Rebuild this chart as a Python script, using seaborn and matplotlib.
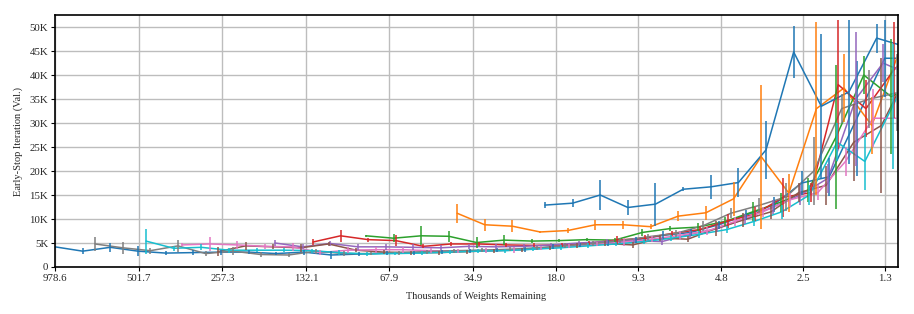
import matplotlib
matplotlib.use("Agg")
import matplotlib.pyplot as plt
import seaborn as sns
import pandas as pd

# fraction of weights left after each pruning round
RETAIN = [1.0, 0.802, 0.6432, 0.5158, 0.4137, 0.3318, 0.2661, 0.2134, 0.1712, 0.1373,
          0.1101, 0.0883, 0.0708, 0.0568, 0.0456, 0.0365, 0.0293, 0.0235, 0.0188, 0.0151,
          0.0121, 0.0097, 0.0078, 0.00625, 0.00501, 0.00402, 0.00322, 0.00258, 0.00207,
          0.00166, 0.00133, 0.00107]

# starting size (thousands of weights) of each network
start_size = {
    "a": 978.6, "orange": 39.5, "green": 81.8, "red": 124.9, "purple": 169.0,
    "brown": 266.5, "pink": 355.1, "gray": 711.1, "cyan": 473.4, "b": 19.6,
}

colors = {
    "a": "#1f77b4", "orange": "#ff7f0e", "green": "#2ca02c", "red": "#d62728",
    "purple": "#9467bd", "brown": "#8c564b", "pink": "#e377c2", "gray": "#7f7f7f",
    "cyan": "#17becf", "b": "#1f77b4",
}

# early-stop iteration (thousands), mean and half-width of error bar
mean_a = [4.2, 3.3, 4.1, 3.3, 2.9, 3.0, 3.1, 3.1, 2.8, 3.1, 2.5, 2.7, 2.9, 3.0, 3.2, 3.4,
          3.5, 3.7, 4.2, 4.6, 5.0, 5.6, 6.6, 7.2, 8.8, 10.8, 13.0, 17.5, 18.8, 31.0, 43.5, 43.5]
err_a = [0.2, 0.6, 1.0, 1.1, 0.4, 0.5, 0.5, 0.4, 0.4, 0.5, 0.8, 0.4, 0.4, 0.4, 0.4, 0.4,
         0.4, 0.5, 0.5, 0.5, 0.6, 0.6, 0.8, 0.8, 0.8, 1.0, 1.5, 2.5, 4.0, 12.0, 8.0, 8.0]

mean_orange = [11.2, 8.8, 8.5, 7.3, 7.6, 8.8, 8.8, 8.4, 10.6, 11.3, 14.2, 23.0, 15.4, 33.0,
               37.3, 29.5, 45.0]
err_orange = [2.0, 1.2, 1.2, 0.2, 0.5, 1.0, 0.8, 0.5, 1.0, 1.5, 3.5, 15.0, 4.0, 18.0,
              7.0, 6.0, 8.0]

mean_green = [6.5, 6.0, 6.5, 6.4, 5.1, 5.6, 5.4, 5.5, 5.7, 5.6, 7.2, 8.0, 8.3, 9.5, 11.5,
              13.5, 16.0, 27.0, 40.0, 35.5, 38.0]
err_green = [0.2, 0.8, 2.0, 1.2, 1.2, 1.0, 0.5, 0.3, 0.3, 0.4, 0.8, 0.5, 0.8, 1.0, 2.0,
             2.0, 2.5, 15.0, 4.0, 12.0, 8.0]

mean_red = [5.2, 6.5, 5.7, 5.5, 4.3, 4.8, 4.8, 4.6, 4.5, 4.6, 5.0, 5.6, 6.0, 7.0, 7.8,
            9.6, 11.0, 14.5, 15.5, 38.0, 33.0, 41.0, 47.0]
err_red = [0.6, 1.3, 0.4, 1.2, 0.4, 0.4, 0.4, 0.4, 0.4, 0.4, 0.5, 0.8, 0.6, 0.6, 0.8,
           1.5, 1.5, 4.0, 2.0, 13.5, 6.0, 10.0, 8.0]

mean_purple = [5.0, 4.2, 4.9, 4.2, 4.2, 4.1, 4.0, 4.3, 4.2, 4.3, 4.6, 5.0, 5.3, 5.5, 5.3,
               6.8, 8.0, 10.0, 12.5, 15.0, 18.5, 35.0, 42.5, 40.0]
err_purple = [0.6, 0.5, 0.5, 0.6, 0.6, 0.6, 0.5, 0.5, 0.5, 0.4, 0.4, 0.5, 0.6, 0.6, 0.8,
              0.8, 0.8, 1.0, 1.5, 2.0, 3.0, 14.0, 4.0, 6.0]

mean_brown = [3.2, 4.4, 4.2, 4.0, 4.8, 3.5, 3.1, 3.0, 3.0, 3.2, 3.4, 3.6, 4.0, 4.5, 4.9,
              4.6, 6.0, 5.8, 8.0, 9.8, 11.5, 15.5, 17.0, 26.0, 29.5, 41.0]
err_brown = [1.0, 0.8, 0.5, 0.8, 0.5, 0.4, 0.4, 0.4, 0.4, 0.4, 0.4, 0.4, 0.4, 0.5, 0.5,
             0.6, 0.6, 0.6, 1.5, 1.5, 1.5, 2.0, 4.0, 8.0, 14.0, 8.0]

mean_pink = [4.6, 4.8, 4.6, 4.3, 4.2, 3.0, 3.5, 3.6, 3.6, 3.4, 3.3, 3.4, 3.5, 3.9, 4.3,
             4.8, 5.2, 5.8, 6.6, 7.5, 9.5, 11.5, 14.0, 15.5, 22.0, 31.0, 31.0]
err_pink = [0.3, 1.5, 0.8, 0.5, 0.8, 0.5, 0.6, 0.6, 0.6, 0.5, 0.4, 0.5, 0.6, 0.4, 0.4,
            0.5, 0.8, 0.6, 1.0, 0.8, 1.0, 1.0, 1.5, 1.5, 3.0, 6.0, 6.0]

mean_gray = [4.8, 4.0, 3.4, 4.4, 2.8, 3.3, 2.6, 2.5, 3.3, 2.8, 2.8, 3.0, 3.2, 3.4, 3.5,
             3.7, 4.0, 4.4, 4.9, 5.5, 6.3, 7.0, 8.6, 11.2, 12.8, 14.6, 20.0, 33.0, 35.0,
             36.3, 37.0]
err_gray = [1.5, 1.2, 0.6, 1.2, 0.6, 0.8, 0.6, 0.5, 0.5, 0.5, 0.4, 0.4, 0.4, 0.4, 0.4,
            0.4, 0.4, 0.5, 0.5, 0.6, 0.6, 0.8, 1.0, 1.0, 1.5, 3.0, 7.0, 3.0, 6.0, 8.0, 8.0]

mean_cyan = [5.4, 3.9, 4.1, 3.5, 3.5, 3.5, 3.4, 3.0, 2.7, 2.8, 2.9, 3.1, 3.3, 3.4, 3.7,
             4.0, 4.4, 4.8, 5.3, 6.0, 6.8, 7.8, 9.5, 11.5, 15.0, 26.0, 22.0, 33.5, 45.0]
err_cyan = [2.6, 0.5, 0.6, 0.5, 0.4, 0.4, 0.4, 0.6, 0.5, 0.4, 0.4, 0.4, 0.4, 0.4, 0.4,
            0.5, 0.5, 0.5, 0.6, 0.6, 0.8, 0.8, 1.0, 1.5, 2.0, 4.0, 6.0, 13.0, 8.0]

mean_b = [12.9, 13.3, 15.0, 12.4, 13.1, 16.2, 16.7, 17.6, 24.4, 44.8, 33.5, 36.5, 47.7, 46.0]
err_b = [0.6, 0.8, 3.2, 1.5, 4.5, 0.4, 2.5, 3.0, 6.0, 5.5, 15.0, 15.0, 3.0, 5.0]

series = {
    "a": (mean_a, err_a), "orange": (mean_orange, err_orange), "green": (mean_green, err_green),
    "red": (mean_red, err_red), "purple": (mean_purple, err_purple),
    "brown": (mean_brown, err_brown), "pink": (mean_pink, err_pink),
    "gray": (mean_gray, err_gray), "cyan": (mean_cyan, err_cyan), "b": (mean_b, err_b),
}

x_ticks = [978.6, 501.7, 257.3, 132.1, 67.9, 34.9, 18.0, 9.3, 4.8, 2.5, 1.3]
y_ticks = [0, 5, 10, 15, 20, 25, 30, 35, 40, 45, 50]

rows = []
for name, (m, e) in series.items():
    for k, (v, s) in enumerate(zip(m, e)):
        rows.append({"net": name, "weights": start_size[name] * RETAIN[k], "iter": v, "err": s})
df = pd.DataFrame(rows)

sns.set_style("whitegrid", {"axes.edgecolor": "black", "grid.color": "#bdbdbd",
                            "xtick.bottom": True, "ytick.left": True})
plt.rcParams["font.family"] = ["Liberation Serif", "DejaVu Serif"]

fig = plt.figure(figsize=(9.14, 3.14), dpi=100)
ax = fig.add_axes([0.0602, 0.1497, 0.9223, 0.8023])

sns.lineplot(data=df, x="weights", y="iter", hue="net", palette=colors, estimator=None,
             sort=False, legend=False, linewidth=1.1, ax=ax)
for name, g in df.groupby("net", sort=False):
    ax.vlines(g["weights"], g["iter"] - g["err"], g["iter"] + g["err"],
              colors=colors[name], linewidth=1.1)

ax.set_xscale("log")
ax.set_xlim(978.6, 1.17)
ax.set_xticks(x_ticks)
ax.set_xticklabels([f"{t:.1f}" for t in x_ticks])
ax.minorticks_off()
ax.set_ylim(0, 52.5)
ax.set_yticks(y_ticks)
ax.set_yticklabels(["0"] + [f"{t}K" for t in y_ticks[1:]])

ax.grid(True, color="#bdbdbd", linewidth=1.0)
for sp in ax.spines.values():
    sp.set_color("black")
    sp.set_linewidth(1.2)
ax.tick_params(axis="both", labelsize=7.8, length=3, width=0.8, color="black", pad=2)
ax.set_xlabel("Thousands of Weights Remaining", fontsize=7.5, labelpad=6)
ax.set_ylabel("Early-Stop Iteration (Val.)", fontsize=7.5, labelpad=5)

fig.savefig("out.png", dpi=100)
